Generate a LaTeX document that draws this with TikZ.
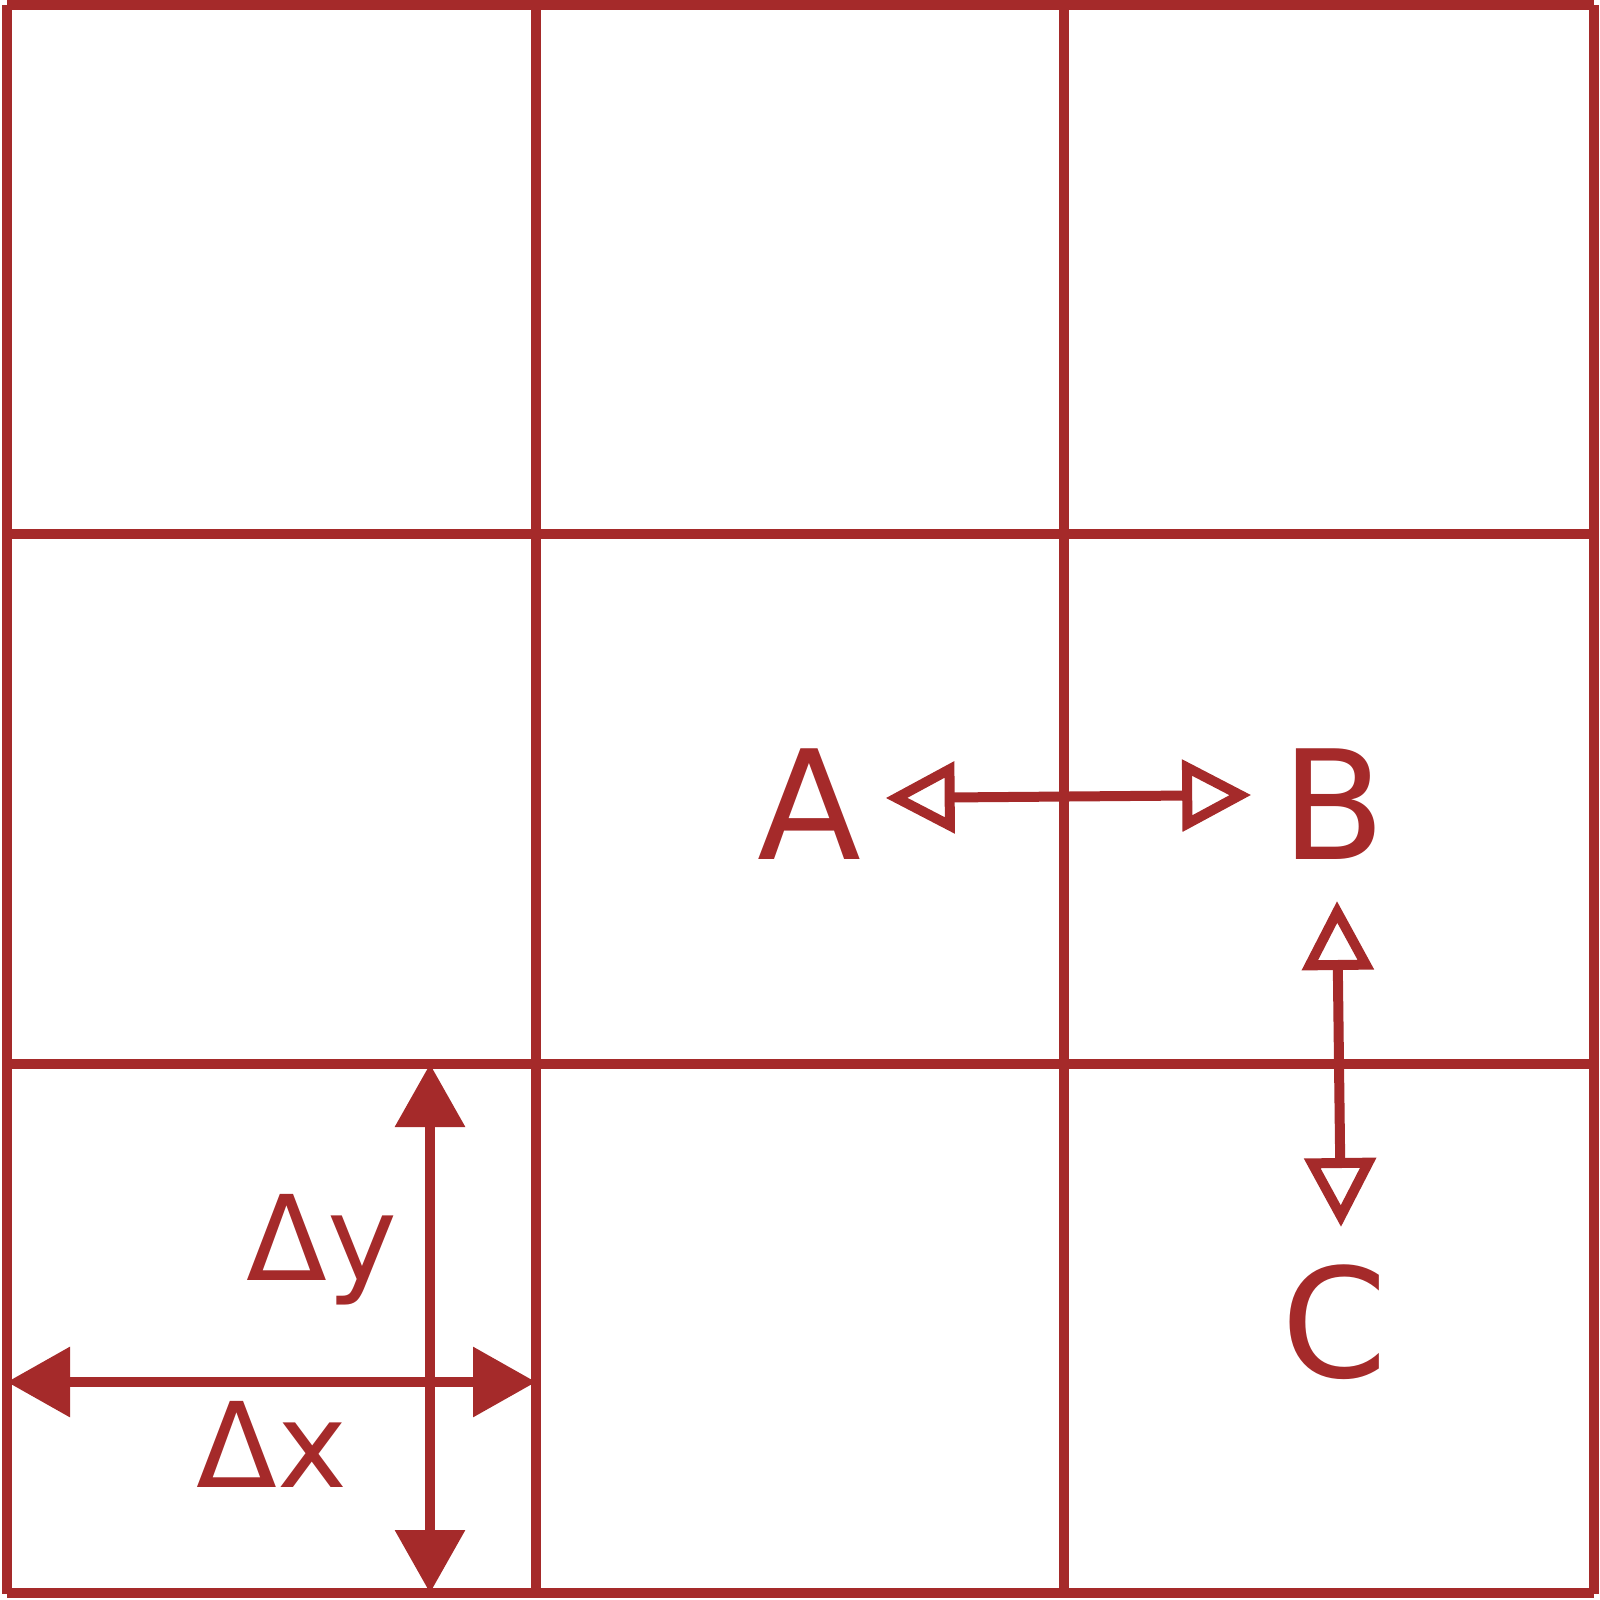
\documentclass[tikz,border=0pt]{standalone}
\usepackage{fontspec}
\setmainfont{DejaVu Sans}
\usetikzlibrary{arrows.meta,calc}
\definecolor{brn}{HTML}{A52A2A}
\tikzset{
  gridline/.style={draw=brn,line width=10*0.01cm,line cap=butt},
  lbl/.style={text=brn,inner sep=0pt,anchor=base,font=\fontsize{43.2pt}{50pt}\selectfont},
  dlbl/.style={text=brn,inner sep=0pt,anchor=base,font=\fontsize{33.6pt}{40pt}\selectfont},
  dimarrow/.style={draw=brn,line width=10*0.01cm,{Triangle[length=63*0.01cm,width=68*0.01cm]}-{Triangle[length=63*0.01cm,width=68*0.01cm]}},
  openarrow/.style={draw=brn,line width=10*0.01cm,{Triangle[open,fill=white,length=69*0.01cm,width=70*0.01cm]}-{Triangle[open,fill=white,length=69*0.01cm,width=70*0.01cm]}}
}
\begin{document}
\begin{tikzpicture}[x=0.01cm,y=-0.01cm]
\useasboundingbox (0,0) rectangle (1600,1600);
% grid
\foreach \x in {7,536,1064,1594}{\draw[gridline] (\x,5) -- (\x,1594);}
\foreach \y in {5,534,1064,1593}{\draw[gridline] (7,\y) -- (1594,\y);}
% labels
\node[lbl] (A) at (809,859) {A};
\node[lbl] (B) at (1334,859) {B};
\node[lbl] (C) at (1335,1377) {C};
\node[dlbl] (dy) at (322,1280) {Δy};
\node[dlbl] (dx) at (272,1487) {Δx};
% dimension arrows
\coordinate (dxL) at (7,1382);
\coordinate (dxR) at (536,1382);
\coordinate (dyT) at (430,1064);
\coordinate (dyB) at (430,1593);
\draw[dimarrow] (dxL) -- (dxR);
\draw[dimarrow] (dyT) -- (dyB);
% open arrows
\draw[openarrow] ($(A.base east)+(24,-61)$) -- ($(B.base west)+(-30,-64)$);
\draw[openarrow] ($(B.base)+(3,42)$) -- ($(C.base)+(6,-150)$);
\end{tikzpicture}
\end{document}
